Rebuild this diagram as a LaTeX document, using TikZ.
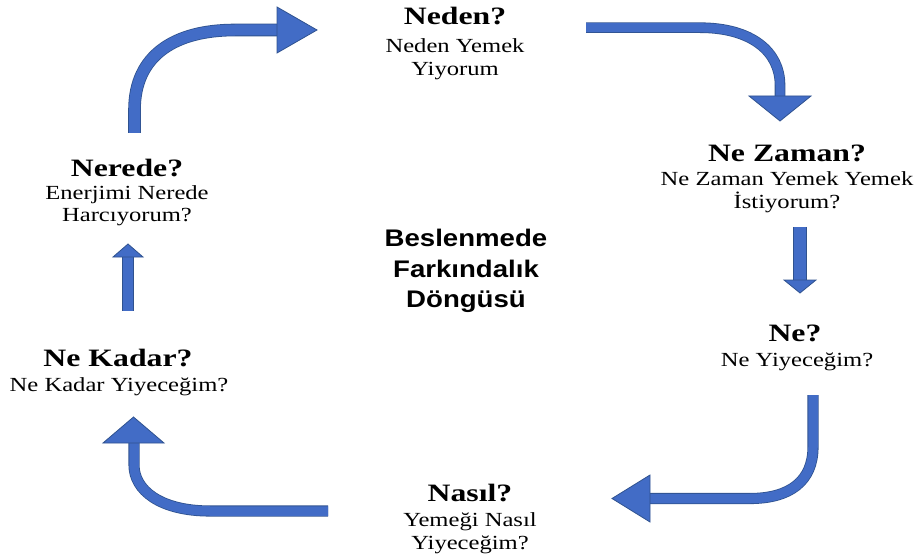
\documentclass[tikz,border=0pt]{standalone}
\usepackage{fontspec}
\setmainfont{Liberation Serif}
\newfontfamily\censans{Liberation Sans}
\definecolor{arrfill}{RGB}{66,108,198}
\definecolor{arrline}{RGB}{47,82,143}
\newcommand{\tstr}[1]{\scalebox{1.27}[1]{#1}}
\newcommand{\sstr}[1]{\scalebox{1.23}[1]{#1}}
\newcommand{\cstr}[1]{\scalebox{1.15}[1]{#1}}
\tikzset{
  ttl/.style={anchor=base, inner sep=0pt, font=\fontsize{25}{28}\selectfont\bfseries},
  sub/.style={anchor=base, inner sep=0pt, font=\fontsize{20}{23}\selectfont},
  ctr/.style={anchor=base, inner sep=0pt, font=\fontsize{24}{28}\selectfont\censans\bfseries},
  shaft/.style={draw=arrline, line width=0.8pt, double=arrfill, double distance=#1},
  head/.style={fill=arrfill, draw=arrline, line width=0.8pt, line join=miter}
}
\begin{document}
\begin{tikzpicture}[x=1pt,y=-1pt]
\useasboundingbox (0,0) rectangle (921,556);
% texts
\node[ttl] (t1) at (455,25) {\tstr{Neden?}};
\node[sub] (s1a) at (455,53) {\sstr{Neden Yemek}};
\node[sub] (s1b) at (455,76) {\sstr{Yiyorum}};
\node[ttl] (t2) at (787,161.7) {\tstr{Ne Zaman?}};
\node[sub] (s2a) at (787,186) {\sstr{Ne Zaman Yemek Yemek}};
\node[sub] (s2b) at (787,209) {\sstr{İstiyorum?}};
\node[ttl] (t3) at (795,341.7) {\tstr{Ne?}};
\node[sub] (s3a) at (797,366) {\sstr{Ne Yiyeceğim?}};
\node[ttl] (t4) at (470,501.7) {\tstr{Nasıl?}};
\node[sub] (s4a) at (470,526) {\sstr{Yemeği Nasıl}};
\node[sub] (s4b) at (470,549) {\sstr{Yiyeceğim?}};
\node[ttl] (t5) at (118,366.7) {\tstr{Ne Kadar?}};
\node[sub] (s5a) at (119,391) {\sstr{Ne Kadar Yiyeceğim?}};
\node[ttl] (t6) at (127,176.7) {\tstr{Nerede?}};
\node[sub] (s6a) at (127,200) {\sstr{Enerjimi Nerede}};
\node[sub] (s6b) at (127,222) {\sstr{Harcıyorum?}};
\node[ctr] (c1) at (466,247) {\cstr{Beslenmede}};
\node[ctr] (c2) at (466,277) {\cstr{Farkındalık}};
\node[ctr] (c3) at (466,307) {\cstr{Döngüsü}};
% arrow coordinates
\coordinate (a1s) at (134.5,133);
\coordinate (a1e) at (279,30);
\coordinate (b1s) at (586,27.7);
\coordinate (b1e) at (780,98);
\coordinate (c1s) at (800,227);
\coordinate (c1e) at (800,282);
\coordinate (d1s) at (813,395);
\coordinate (d1e) at (648,498.5);
\coordinate (e1s) at (328,511);
\coordinate (e1e) at (134,441);
\coordinate (f1s) at (128,310.7);
\coordinate (f1e) at (128,255);
% arrow A (top-left)
\draw[shaft=11pt] (a1s) -- (134.5,110) .. controls (134.5,55) and (175,30) .. (235,30) -- (a1e);
\draw[head] (277,7) -- (317,30) -- (277,53) -- cycle;
% arrow B (top-right)
\draw[shaft=9pt] (b1s) -- (700,27.7) .. controls (752,27.7) and (780,52) .. (780,85) -- (b1e);
\draw[head] (749,96) -- (811,96) -- (780,121) -- cycle;
% arrow C (small down)
\draw[shaft=12.5pt] (c1s) -- (c1e);
\draw[head] (784,280) -- (816,280) -- (800,293) -- cycle;
% arrow D (bottom-right)
\draw[shaft=9.5pt] (d1s) -- (813,447) .. controls (813,481) and (790,498.5) .. (750,498.5) -- (d1e);
\draw[head] (650,475) -- (650,522) -- (612,498.5) -- cycle;
% arrow E (bottom-left)
\draw[shaft=9.5pt] (e1s) -- (210,511) .. controls (160,511) and (134,490) .. (134,465) -- (e1e);
\draw[head] (103,443) -- (164,443) -- (133.5,417) -- cycle;
% arrow F (small up)
\draw[shaft=10.5pt] (f1s) -- (f1e);
\draw[head] (113,257) -- (143,257) -- (128,244) -- cycle;
\end{tikzpicture}
\end{document}
